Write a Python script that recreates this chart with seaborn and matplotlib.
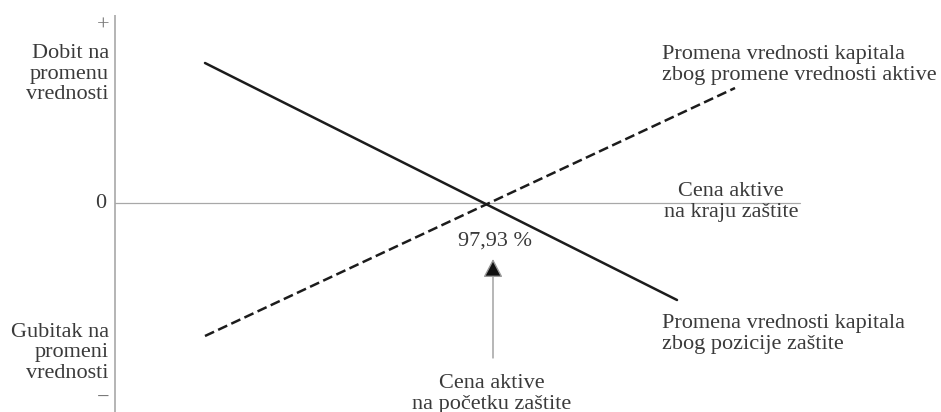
import matplotlib
matplotlib.use("Agg")
import matplotlib.pyplot as plt
import seaborn as sns
import pandas as pd

# Break-even price (% of starting asset price) where both value changes are zero
break_even = 97.93
break_even_label = "97,93 %"

# Endpoints of the two value-change lines (price in %, value change in units)
hedge_price = [92.27, 101.71]
hedge_change = [140, -97]
asset_price = [92.27, 102.87]
asset_change = [-133, 115]

y_top_label = "+"
y_bottom_label = "\u2212"
zero_label = "0"
gain_label = "Dobit na\npromenu\nvrednosti"
loss_label = "Gubitak na\npromeni\nvrednosti"
end_price_label = "Cena aktive\nna kraju zaštite"
start_price_label = "Cena aktive\nna početku zaštite"
asset_line_label = "Promena vrednosti kapitala\nzbog promene vrednosti aktive"
hedge_line_label = "Promena vrednosti kapitala\nzbog pozicije zaštite"

sns.set_theme(style="white")
plt.rcParams["font.family"] = ["Liberation Serif", "DejaVu Serif"]

W, H = 941, 412
fig = plt.figure(figsize=(W / 100, H / 100), dpi=100)
ax = fig.add_axes([0, 0, 1, 1])
ax.set_xlim(88.17, 106.99)
ax.set_ylim(-209, 203)
ax.set_axis_off()

axis_color = "#a8a8a8"
line_color = "#1c1c1c"
text_color = "#3a3a3a"

# Axes of the diagram
ax.plot([90.47, 90.47], [188, -209], color=axis_color, lw=1.2, solid_capstyle="butt")
ax.plot([90.47, 104.17], [0, 0], color=axis_color, lw=0.9)

df = pd.concat([
    pd.DataFrame({"price": hedge_price, "change": hedge_change, "series": "hedge"}),
    pd.DataFrame({"price": asset_price, "change": asset_change, "series": "asset"}),
])
sns.lineplot(data=df, x="price", y="change", hue="series", style="series",
             palette={"hedge": line_color, "asset": line_color},
             dashes={"hedge": "", "asset": (4, 1.8)},
             lw=1.8, legend=False, ax=ax, sort=False)

# Arrow pointing at the break-even price
ax.annotate("", xy=(break_even + 0.1, -56), xytext=(break_even + 0.1, -155),
            arrowprops=dict(arrowstyle="-|>,head_length=0.95,head_width=0.5",
                            ec="#9a9a9a", fc="#111111", lw=1.0,
                            shrinkA=0, shrinkB=0))


def px(x, y):
    return x / W, 1 - y / H


fs = 16
kw = dict(color=text_color, fontsize=fs, linespacing=1.1)
sign_kw = dict(color="#7a7a7a", fontsize=fs, linespacing=1.1)
fig.text(*px(109, 26), y_top_label, ha="right", va="center", **sign_kw)
fig.text(*px(109, 74), gain_label, ha="right", va="center", multialignment="right", **kw)
fig.text(*px(106, 204), zero_label, ha="right", va="center", **kw)
fig.text(*px(109, 353), loss_label, ha="right", va="center", multialignment="right", **kw)
fig.text(*px(109, 398), y_bottom_label, ha="right", va="center", **sign_kw)
fig.text(*px(662, 65), asset_line_label, ha="left", va="center", multialignment="left", **kw)
fig.text(*px(731, 202), end_price_label, ha="center", va="center", multialignment="center", **kw)
fig.text(*px(495, 241), break_even_label, ha="center", va="center", **kw)
fig.text(*px(662, 334), hedge_line_label, ha="left", va="center", multialignment="left", **kw)
fig.text(*px(492, 394), start_price_label, ha="center", va="center", multialignment="center", **kw)

fig.savefig("out.png", dpi=100, facecolor="white")
